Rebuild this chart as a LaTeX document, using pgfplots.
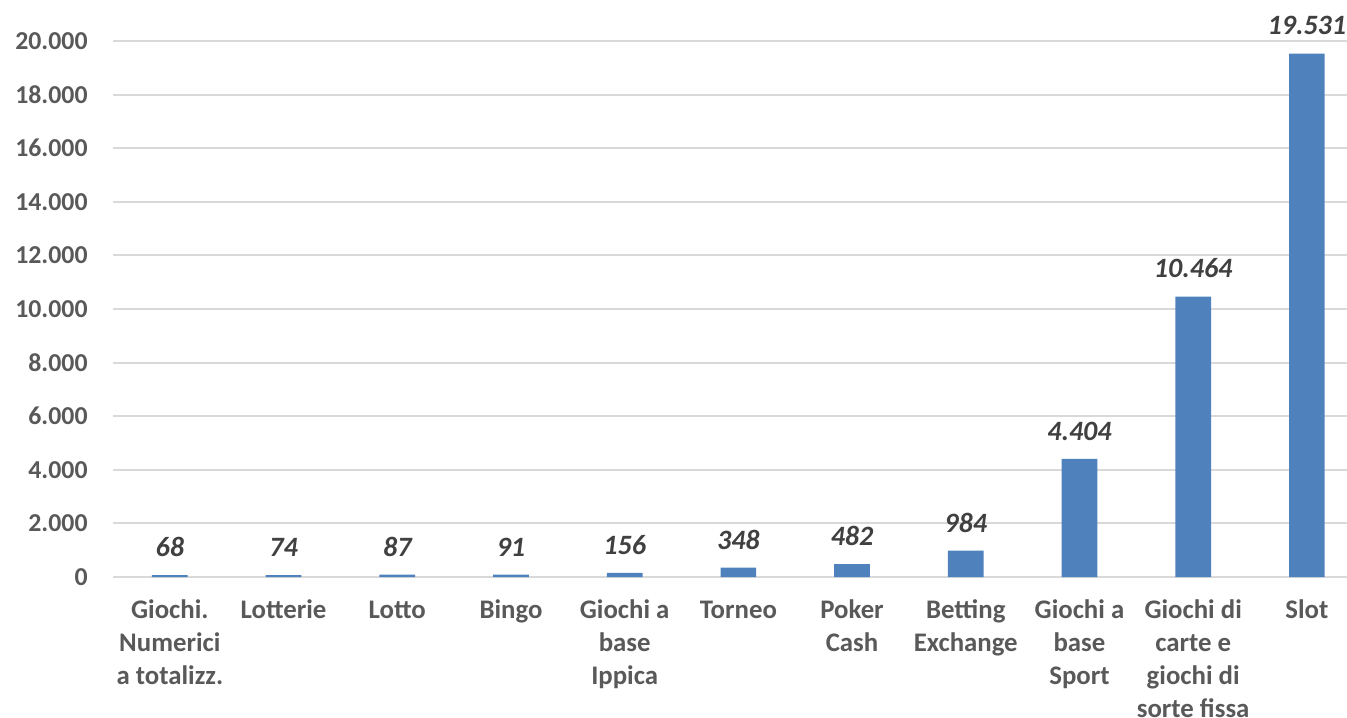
\documentclass[border=0pt]{standalone}
\usepackage{pgfplots}
\pgfplotsset{compat=1.18}
\usepackage{fontspec}
\setmainfont{Carlito}
\definecolor{barblue}{HTML}{4F81BD}
\definecolor{ticktext}{HTML}{595959}
\definecolor{labeltext}{HTML}{404040}
\definecolor{gridgray}{HTML}{D9D9D9}
\newcommand{\st}{\rule{0pt}{11pt}}
\begin{document}
\begin{tikzpicture}
\path[use as bounding box] (-56.5pt,-70pt) rectangle (617pt,288.5pt);
\begin{axis}[
  at={(0,0)}, anchor=south west,
  scale only axis,
  width=625.35pt, height=268pt,
  xmin=-0.5, xmax=10.5,
  ymin=0, ymax=20000,
  ybar, bar width=0.314,
  clip=false,
  axis line style={draw=none},
  major tick length=0pt,
  ytick={0,2000,4000,6000,8000,10000,12000,14000,16000,18000,20000},
  ymajorgrids,
  grid style={gridgray, line width=1pt},
  xtick={0,1,2,3,4,5,6,7,8,9,10},
  xticklabels={{\st Giochi.\\Numerici\\a totalizz.},{\st Lotterie},{\st Lotto},{\st Bingo},{\st Giochi a\\base\\Ippica},{\st Torneo},{\st Poker\\Cash},{\st Betting\\Exchange},{\st Giochi a\\base\\Sport},{\st Giochi di\\carte e\\giochi di\\sorte fissa},{\st Slot}},
  xticklabel style={font=\fontsize{13.4}{16.5}\selectfont\bfseries, text=ticktext, align=center, anchor=north, inner sep=0pt, yshift=-9.5pt},
  yticklabel style={font=\fontsize{12.9}{15}\selectfont\bfseries, text=ticktext, anchor=east, inner sep=0pt, xshift=-12.5pt},
  /pgf/number format/assume math mode=true,
  /pgf/number format/1000 sep={.},
  scaled y ticks=false,
  yticklabel={\pgfmathprintnumber[fixed,precision=0,1000 sep={.},assume math mode=true]{\tick}},
  point meta=y,
  nodes near coords={\pgfmathprintnumber[fixed,precision=0,1000 sep={.},assume math mode=true]{\pgfplotspointmeta}},
  nodes near coords style={font=\fontsize{14}{16}\selectfont\bfseries\itshape, text=labeltext, anchor=south, inner sep=0pt, yshift=9pt},
]
\addplot[fill=barblue, draw=none] coordinates {
(0,68) (1,74) (2,87) (3,91) (4,156) (5,348) (6,482) (7,984) (8,4404) (9,10464) (10,19531)
};
\end{axis}
\end{tikzpicture}
\end{document}
